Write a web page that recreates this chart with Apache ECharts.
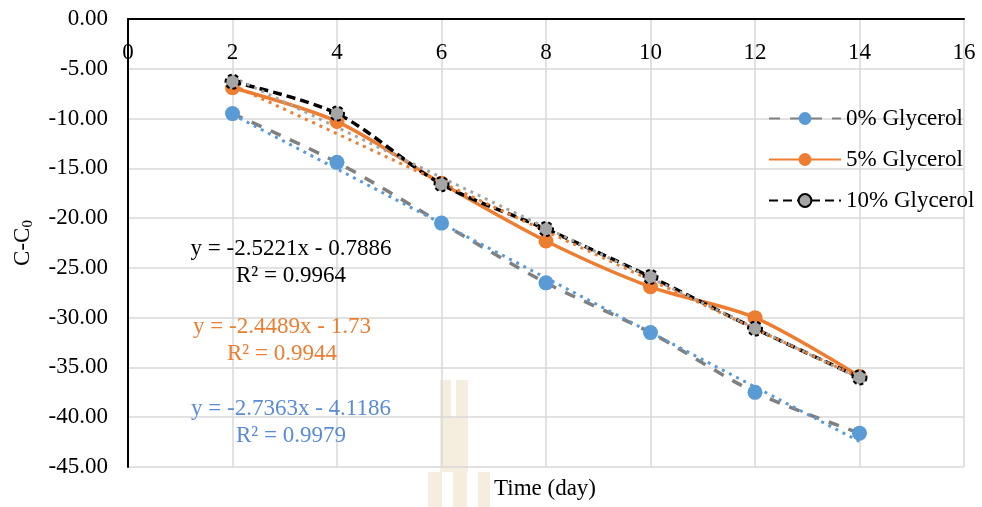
<!DOCTYPE html>
<html>
<head>
<meta charset="utf-8">
<script src="https://cdn.jsdelivr.net/npm/echarts@6/dist/echarts.min.js"></script>
<style>
html, body { margin: 0; padding: 0; background: #fff; }
#main { width: 982px; height: 507px; }
</style>
</head>
<body>
<div id="main"></div>
<script>
// 数据
const days = [2, 4, 6, 8, 10, 12, 14];
const glycerol0 = [-9.5, -14.4, -20.5, -26.5, -31.5, -37.5, -41.6];
const glycerol5 = [-6.9, -10.3, -16.5, -22.3, -26.9, -30.0, -35.9];
const glycerol10 = [-6.3, -9.5, -16.6, -21.1, -25.9, -31.1, -36.0];
// 趋势线端点 (x=2, x=14)
const trendDays = [2, 14];
const trend0 = [-9.59, -42.43];
const trend5 = [-6.63, -36.01];
const trend10 = [-5.83, -36.10];
const equations = [
    { eq: 'y = -2.5221x - 0.7886', r2: 'R² = 0.9964', color: '#000000' },
    { eq: 'y = -2.4489x - 1.73', r2: 'R² = 0.9944', color: '#ED7D31' },
    { eq: 'y = -2.7363x - 4.1186', r2: 'R² = 0.9979', color: '#5B8BD6' }
];

const font = '"Liberation Serif", "Times New Roman", serif';
const pair = (xs, ys) => xs.map((x, i) => [x, ys[i]]);

const myChart = echarts.init(document.getElementById('main'));

const trendLine = (data, color) => ({
    type: 'line',
    data: data,
    symbol: 'none',
    silent: true,
    z: 3,
    lineStyle: { color: color, width: 3, type: [3, 5] }
});

// 水印
const wm = '#F2E9D6';
const watermark = [
    { type: 'rect', shape: { x: 440, y: 380, width: 28, height: 92 }, style: { fill: wm, opacity: 0.8 } },
    { type: 'rect', shape: { x: 451, y: 380, width: 5, height: 38 }, style: { fill: '#ffffff' } },
    { type: 'rect', shape: { x: 428, y: 472, width: 14, height: 35 }, style: { fill: wm, opacity: 0.8 } },
    { type: 'rect', shape: { x: 453, y: 472, width: 14, height: 35 }, style: { fill: wm, opacity: 0.8 } },
    { type: 'rect', shape: { x: 478, y: 472, width: 12, height: 35 }, style: { fill: wm, opacity: 0.8 } }
];

const texts = [
    { type: 'text', z: 10, style: { text: 'Time (day)', x: 545, y: 489, textAlign: 'center', textVerticalAlign: 'middle', fontSize: 23, fontFamily: font, fill: '#000' } }
];
equations.forEach((e, i) => {
    const cx = [291, 282, 291][i];
    const cy = [249, 327, 409][i];
    texts.push({ type: 'text', z: 10, style: { text: e.eq, x: cx, y: cy, textAlign: 'center', textVerticalAlign: 'middle', fontSize: 23, fontFamily: font, fill: e.color } });
    texts.push({ type: 'text', z: 10, style: { text: e.r2, x: cx, y: cy + 27, textAlign: 'center', textVerticalAlign: 'middle', fontSize: 23, fontFamily: font, fill: e.color } });
});

const option = {
    animation: false,
    textStyle: { fontFamily: font },
    grid: { left: 128, right: 18, top: 19, bottom: 40, containLabel: false, outerBoundsMode: 'none' },
    legend: {
        data: ['0% Glycerol', '5% Glycerol', '10% Glycerol'],
        orient: 'vertical',
        left: 763,
        top: 102,
        itemWidth: 72,
        itemHeight: 16,
        itemGap: 18,
        textStyle: { fontFamily: font, fontSize: 23, color: '#000', lineHeight: 23 }
    },
    xAxis: {
        type: 'value',
        position: 'top',
        min: 0,
        max: 16,
        interval: 2,
        axisLine: { onZero: false, lineStyle: { color: '#000', width: 2 } },
        axisTick: { show: false },
        axisLabel: { inside: true, margin: 22, fontSize: 23, color: '#000', fontFamily: font },
        splitLine: { lineStyle: { color: '#D9D9D9', width: 1.5 } }
    },
    yAxis: {
        type: 'value',
        min: -45,
        max: 0,
        interval: 5,
        name: '{a|C-C}{b|0}',
        nameLocation: 'middle',
        nameRotate: 90,
        nameGap: 92,
        nameTextStyle: {
            rich: {
                a: { fontSize: 23, fontFamily: font, color: '#000' },
                b: { fontSize: 15, fontFamily: font, color: '#000', padding: [12, 0, 0, 0] }
            }
        },
        axisLine: { show: true, onZero: false, lineStyle: { color: '#000', width: 2 } },
        axisTick: { show: false },
        axisLabel: {
            fontSize: 23, color: '#000', fontFamily: font, margin: 20,
            formatter: v => v.toFixed(2)
        },
        splitLine: { lineStyle: { color: '#D9D9D9', width: 1.5 } }
    },
    graphic: watermark.concat(texts),
    series: [
        {
            name: '0% Glycerol',
            type: 'line',
            data: pair(days, glycerol0),
            smooth: 0.3,
            symbol: 'circle',
            symbolSize: 15,
            itemStyle: { color: '#5B9BD5' },
            lineStyle: { color: '#808080', width: 3.5, type: [11, 10] }
        },
        {
            name: '5% Glycerol',
            type: 'line',
            data: pair(days, glycerol5),
            smooth: 0.3,
            symbol: 'circle',
            symbolSize: 15,
            itemStyle: { color: '#ED7D31' },
            lineStyle: { color: '#ED7D31', width: 3.5 }
        },
        {
            name: '10% Glycerol',
            type: 'line',
            data: pair(days, glycerol10),
            smooth: 0.3,
            symbol: 'circle',
            symbolSize: 14,
            itemStyle: { color: '#A5A5A5', borderColor: '#000', borderWidth: 2, borderType: [4, 3] },
            lineStyle: { color: '#000', width: 3.5, type: [9, 5] }
        },
        trendLine(pair(trendDays, trend0), '#5B9BD5'),
        trendLine(pair(trendDays, trend5), '#ED7D31'),
        trendLine(pair(trendDays, trend10), '#A5A5A5')
    ]
};

myChart.setOption(option);
</script>
</body>
</html>
